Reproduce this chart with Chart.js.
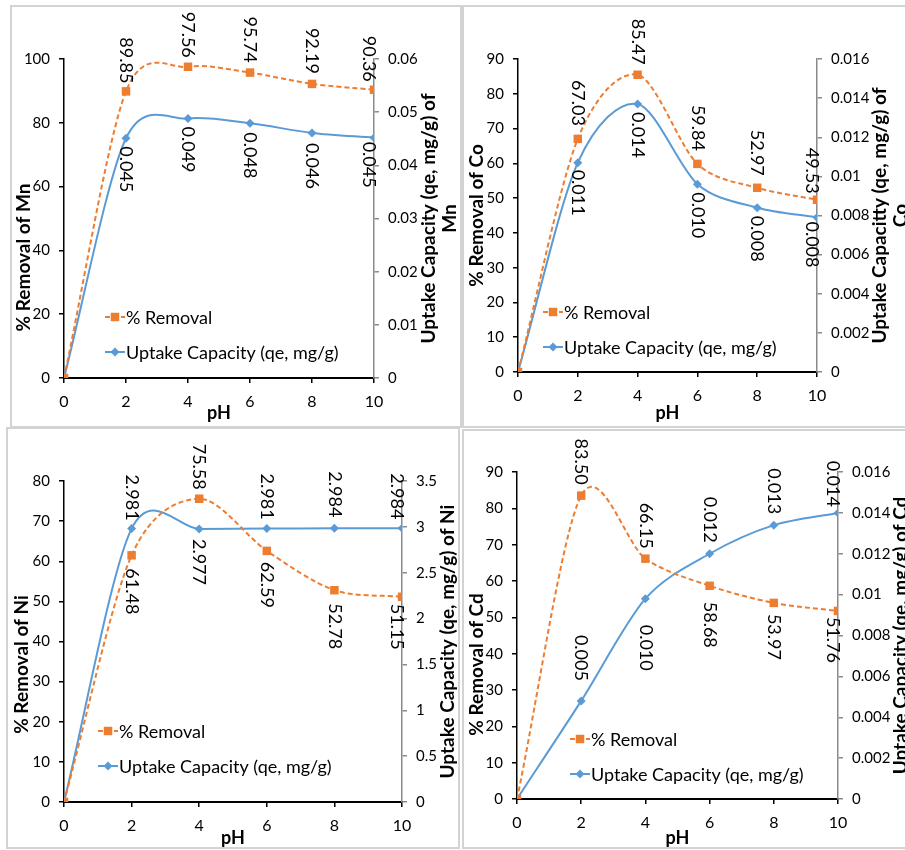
<!DOCTYPE html>
<html>
<head>
<meta charset="utf-8">
<script src="https://cdn.jsdelivr.net/npm/chart.js@4.4.1/dist/chart.umd.min.js"></script>
<style>
  html, body { margin: 0; padding: 0; background: #fff; width: 905px; height: 850px; overflow: hidden; }
  .box { position: absolute; border: 2px solid #d3d3d3; box-sizing: border-box; }
  canvas { position: absolute; }
</style>
</head>
<body>
<div class="box" style="left:10px;top:5px;width:452px;height:423px"></div>
<div class="box" style="left:462px;top:5px;width:460px;height:423px"></div>
<div class="box" style="left:6px;top:427px;width:454px;height:422px"></div>
<div class="box" style="left:462px;top:429px;width:460px;height:420px"></div>
<canvas id="mn" width="449" height="420" style="left:12px;top:7px"></canvas>
<canvas id="co" width="441" height="420" style="left:464px;top:7px"></canvas>
<canvas id="ni" width="450" height="418" style="left:8px;top:429px"></canvas>
<canvas id="cd" width="441" height="416" style="left:464px;top:431px"></canvas>
<script>
// pH values (x axis)
const phValues = [0, 2, 4, 6, 8, 10];

// % removal per metal
const mnRemoval = [0, 89.85, 97.56, 95.74, 92.19, 90.36];
const coRemoval = [0, 67.03, 85.47, 59.84, 52.97, 49.53];
const niRemoval = [0, 61.48, 75.58, 62.59, 52.78, 51.15];
const cdRemoval = [0, 83.50, 66.15, 58.68, 53.97, 51.76];

// uptake capacity qe (mg/g) per metal
const mnUptake = [0, 0.0451, 0.0488, 0.0479, 0.0461, 0.0452];
const coUptake = [0, 0.0107, 0.0137, 0.0096, 0.0084, 0.0079];
const niUptake = [0, 2.981, 2.977, 2.981, 2.984, 2.984];
const cdUptake = [0, 0.0048, 0.0098, 0.0120, 0.0134, 0.0140];

const ORANGE = '#ED7D31';
const BLUE = '#5B9BD5';
const FONT = "Lato, 'Liberation Sans', sans-serif";

Chart.defaults.color = '#000';

function marker(ctx, style, x, y, r, color) {
  ctx.fillStyle = color;
  ctx.beginPath();
  if (style === 'rect') {
    const s = r * Math.SQRT1_2;
    ctx.rect(x - s, y - s, 2 * s, 2 * s);
  } else {
    ctx.moveTo(x, y - r); ctx.lineTo(x + r, y); ctx.lineTo(x, y + r); ctx.lineTo(x - r, y);
    ctx.closePath();
  }
  ctx.fill();
}

// spreadsheet-style smoothing: plain catmull-rom-ish control points
const smooth = {
  id: 'smooth',
  beforeDatasetsDraw(chart) {
    chart.data.datasets.forEach((ds, di) => {
      const meta = chart.getDatasetMeta(di);
      if (meta.dataset && meta.dataset.updateControlPoints) meta.dataset.updateControlPoints(chart.chartArea, 'x');
      const pts = meta.data;
      pts.forEach((pt, i) => {
        const last = pts.length - 1;
        const prev = pts[Math.max(i - 1, 0)], next = pts[Math.min(i + 1, last)];
        const k = (i === 0 || i === last) ? 0.3 : 0.15;
        const tx = (next.x - prev.x) * k, ty = (next.y - prev.y) * k;
        pt.cp1x = pt.x - tx; pt.cp1y = pt.y - ty;
        pt.cp2x = pt.x + tx; pt.cp2y = pt.y + ty;
      });
    });
  }
};

// titles, rotated point labels and the in-plot legend
const decor = {
  id: 'decor',
  afterDatasetsDraw(chart, args, o) {
    const ctx = chart.ctx, a = chart.chartArea;
    const midY = (a.top + a.bottom) / 2;
    ctx.save();
    ctx.fillStyle = '#000';
    ctx.textAlign = 'center';
    ctx.textBaseline = 'middle';

    ctx.font = '18px ' + FONT;
    chart.data.datasets.forEach((ds, di) => {
      const pts = chart.getDatasetMeta(di).data;
      pts.forEach((pt, i) => {
        if (i === 0) return;
        const dx = i === pts.length - 1 ? -5 : 0;
        ctx.save();
        ctx.translate(pt.x + dx, pt.y + o.labelDy[di][i - 1]);
        ctx.rotate(Math.PI / 2);
        ctx.fillText(ds.data[i].y.toFixed(ds.decimals), 0, 0);
        ctx.restore();
      });
    });

    ctx.font = 'bold 19px ' + FONT;
    ctx.save();
    ctx.translate(a.left + o.leftDx, midY + o.leftDy);
    ctx.rotate(-Math.PI / 2);
    ctx.fillText(o.leftTitle, 0, 0);
    ctx.restore();
    o.rightTitle.forEach((line, k) => {
      ctx.save();
      ctx.translate(a.right + o.rightDx + k * 21, midY);
      ctx.rotate(-Math.PI / 2);
      ctx.fillText(line, 0, 0);
      ctx.restore();
    });

    ctx.font = '18px ' + FONT;
    ctx.textAlign = 'left';
    chart.data.datasets.forEach((ds, di) => {
      const x = a.left + o.legendDx, y = a.bottom + o.legendDy + di * 35;
      ctx.strokeStyle = ds.borderColor;
      ctx.lineWidth = 2;
      ctx.setLineDash(ds.borderDash || []);
      ctx.beginPath(); ctx.moveTo(x, y); ctx.lineTo(x + 20, y); ctx.stroke();
      ctx.setLineDash([]);
      marker(ctx, ds.pointStyle, x + 10, y, ds.pointRadius, ds.borderColor);
      ctx.fillStyle = '#000';
      ctx.fillText(ds.label, x + 21, y + 1);
    });
    ctx.restore();
  }
};

function toPoints(ys) {
  return phValues.map((x, i) => ({ x: x, y: ys[i] }));
}

function makePanel(id, removal, uptake, p) {
  const canvas = document.getElementById(id);
  const W = canvas.width, H = canvas.height;
  const axisGrid = color => ({ display: true, drawOnChartArea: false, drawTicks: true, tickLength: 5, color: color, lineWidth: 1.5 });
  return new Chart(canvas, {
    type: 'line',
    data: {
      datasets: [
        {
          label: '% Removal', data: toPoints(removal), yAxisID: 'y', decimals: 2,
          borderColor: ORANGE, backgroundColor: ORANGE, borderWidth: 2, borderDash: [5, 3],
          pointStyle: 'rect', pointRadius: 6, pointBorderWidth: 0, tension: 0.4
        },
        {
          label: 'Uptake Capacity (qe, mg/g)', data: toPoints(uptake), yAxisID: 'y1', decimals: 3,
          borderColor: BLUE, backgroundColor: BLUE, borderWidth: 2,
          pointStyle: 'rectRot', pointRadius: 4.5, pointBorderWidth: 0, tension: 0.4
        }
      ]
    },
    options: {
      responsive: false,
      animation: false,
      layout: { padding: { top: p.area.top, left: 0, right: 0, bottom: 0 }, autoPadding: false },
      plugins: {
        legend: { display: false },
        tooltip: { enabled: false },
        decor: p
      },
      scales: {
        x: {
          type: 'linear', position: 'bottom', min: 0, max: 10,
          ticks: { stepSize: 2, padding: 9, font: { family: FONT, size: 16 } },
          grid: axisGrid('#000'),
          border: { color: '#000', width: 2 },
          title: {
            display: true, text: 'pH', font: { family: FONT, size: 18, weight: 'bold', lineHeight: 1.2 },
            padding: { top: 0, bottom: H - p.phY - 10.8 }
          },
          afterFit: s => { s.height = H - p.area.bottom; }
        },
        y: {
          position: 'left', min: 0, max: p.yMax,
          ticks: { stepSize: p.yStep, padding: 9, font: { family: FONT, size: 15 } },
          grid: axisGrid('#000'),
          border: { color: '#000', width: 1.5 },
          afterFit: s => { s.width = p.area.left; }
        },
        y1: {
          position: 'right', min: 0, max: p.y1Max,
          ticks: { stepSize: p.y1Step, padding: 9, font: { family: FONT, size: 15 }, callback: v => String(+v.toFixed(4)) },
          grid: axisGrid('#8a8a8a'),
          border: { color: '#8a8a8a', width: 1.5 },
          afterFit: s => { s.width = W - p.area.right; }
        }
      }
    },
    plugins: [smooth, decor]
  });
}

makePanel('mn', mnRemoval, mnUptake, {
  area: { left: 52, top: 52, right: 362, bottom: 371 }, phY: 406,
  yMax: 100, yStep: 20, y1Max: 0.06, y1Step: 0.01,
  leftTitle: '% Removal of Mn', leftDx: -40, leftDy: 39,
  rightTitle: ['Uptake Capacity (qe, mg/g) of', 'Mn'], rightDx: 55,
  legendDx: 41, legendDy: -61,
  labelDy: [[-31, -32, -33, -33, -31], [31, 31, 32, 33, 27]]
});

makePanel('co', coRemoval, coUptake, {
  area: { left: 54, top: 52, right: 353, bottom: 365 }, phY: 406,
  yMax: 90, yStep: 10, y1Max: 0.016, y1Step: 0.002,
  leftTitle: '% Removal of Co', leftDx: -41, leftDy: 0,
  rightTitle: ['Uptake Capacitty (qe, mg/g) of', 'Co'], rightDx: 63,
  legendDx: 25, legendDy: -60,
  labelDy: [[-36, -33, -36, -35, -29], [30, 31, 31, 31, 27]]
});

makePanel('ni', niRemoval, niUptake, {
  area: { left: 56, top: 52, right: 394, bottom: 373 }, phY: 409,
  yMax: 80, yStep: 10, y1Max: 3.5, y1Step: 0.5,
  leftTitle: '% Removal of Ni', leftDx: -42, leftDy: 23,
  rightTitle: ['Uptake Capacity (qe, mg/g) of Ni'], rightDx: 46,
  legendDx: 34, legendDy: -71,
  labelDy: [[36, -32, 34, 36, 30], [-31, 33, -32, -34, -32]]
});

makePanel('cd', cdRemoval, cdUptake, {
  area: { left: 53, top: 41, right: 374, bottom: 368 }, phY: 407,
  yMax: 90, yStep: 10, y1Max: 0.016, y1Step: 0.002,
  leftTitle: '% Removal of Cd', leftDx: -40, leftDy: 29,
  rightTitle: ['Uptake Capacity (qe, mg/g) of Cd'], rightDx: 63,
  legendDx: 53, legendDy: -60,
  labelDy: [[-34, -33, 39, 34, 29], [-43, 49, -34, -34, -29]]
});
</script>
</body>
</html>
